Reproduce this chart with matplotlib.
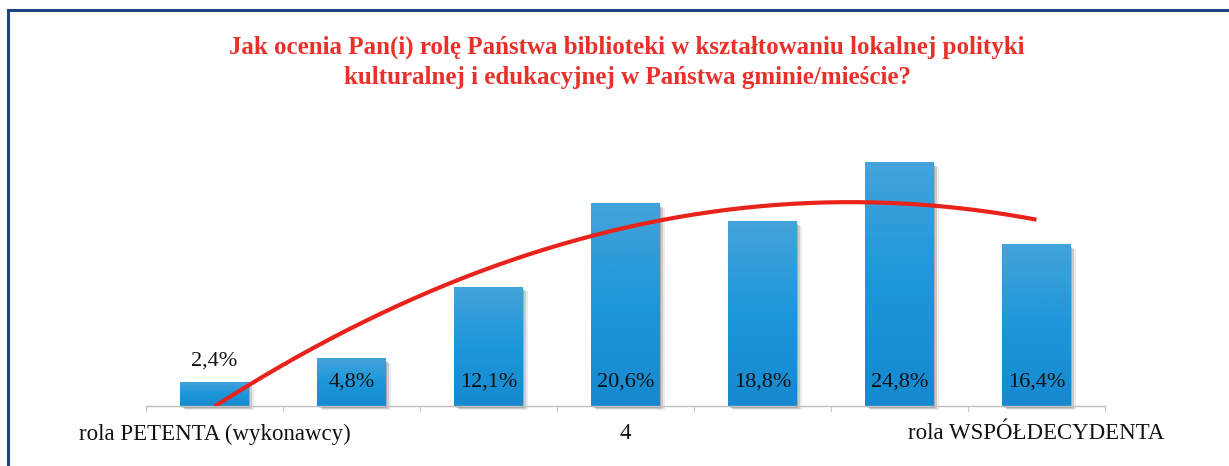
import numpy as np
import matplotlib.pyplot as plt
from matplotlib.colors import LinearSegmentedColormap
from matplotlib.patches import Rectangle
from matplotlib.lines import Line2D

plt.rcParams['font.family'] = ['Liberation Serif', 'DejaVu Serif']

# data
positions = [1, 2, 3, 4, 5, 6, 7]
values = [2.4, 4.8, 12.1, 20.6, 18.8, 24.8, 16.4]
labels = ['2,4%', '4,8%', '12,1%', '20,6%', '18,8%', '24,8%', '16,4%']
tick_labels = ['rola PETENTA (wykonawcy)', '', '', '4', '', '', 'rola WSPÓŁDECYDENTA']
title = ('Jak ocenia Pan(i) rolę Państwa biblioteki w kształtowaniu lokalnej polityki\n'
         'kulturalnej i edukacyjnej w Państwa gminie/mieście?')

W, H = 1229, 466
fig = plt.figure(figsize=(W / 100, H / 100), dpi=100)
ax = fig.add_axes([146 / W, 60 / H, 959 / W, 295 / H])

bar_w = 0.5
grad = LinearSegmentedColormap.from_list('bar', ['#1689d0', '#1c97da', '#44a3da'])
g = np.linspace(0, 1, 100).reshape(-1, 1)

for x, v in zip(positions, values):
    # shadow
    for k, a in enumerate([0.25, 0.18, 0.1]):
        d = 0.012 * (k + 1)
        ax.add_patch(Rectangle((x - bar_w / 2 + d, -0.25 - 0.1 * k), bar_w, v,
                               facecolor='#404040', alpha=a, lw=0, zorder=1,
                               clip_on=False))
    ax.imshow(g, extent=[x - bar_w / 2, x + bar_w / 2, 0, v], origin='lower',
              cmap=grad, aspect='auto', zorder=2)

for x, v, lab in zip(positions, values, labels):
    if v < 4:
        ax.text(x, v + 1.2, lab, ha='center', va='bottom', fontsize=16, color='#111111')
    else:
        ax.text(x, 2.4, lab, ha='center', va='center', fontsize=16, color='#111111', zorder=4)

# polynomial trend line (order 2)
coef = np.polyfit(positions, values, 2)
xs = np.linspace(1, 7, 200)
ax.plot(xs, np.polyval(coef, xs), color='#e8231b', lw=3, zorder=5, solid_capstyle='butt')

ax.set_xlim(0.5, 7.5)
ax.set_ylim(0, 30)
ax.set_yticks([])
for s in ['left', 'right', 'top']:
    ax.spines[s].set_visible(False)
ax.spines['bottom'].set_color('#bfbfbf')
ax.spines['bottom'].set_linewidth(1)

ax.set_xticks(positions)
ax.set_xticklabels(tick_labels, fontsize=16.5, color='#111111')
ax.tick_params(axis='x', which='major', length=0, pad=12.5)
ax.set_xticks(np.arange(0.5, 8.0, 1.0), minor=True)
ax.tick_params(axis='x', which='minor', length=4, color='#bfbfbf', direction='out')

fig.text(627 / W, 1 - 62.5 / H, title, ha='center', va='center', fontsize=18,
         fontweight='bold', color='#e8312a', linespacing=1.42)

# frame
fig.add_artist(Line2D([8 / W, 1], [1 - 10 / H, 1 - 10 / H], color='#1d4480', lw=2.2))
fig.add_artist(Line2D([8 / W, 8 / W], [1 - 10 / H, 0], color='#1d4480', lw=2.2))

fig.savefig('out.png', dpi=100)
